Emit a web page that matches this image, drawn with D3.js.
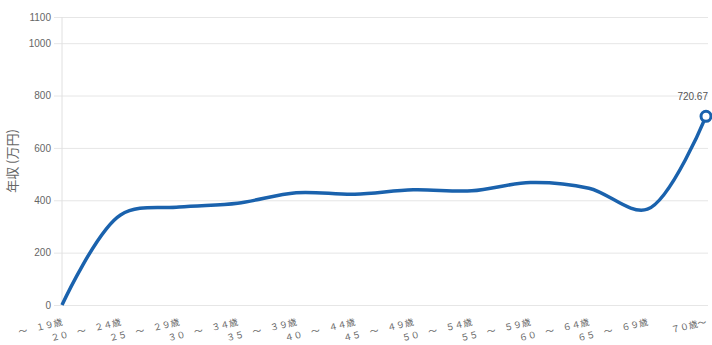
<!DOCTYPE html>
<html lang="ja">
<head>
<meta charset="UTF-8">
<title>年収</title>
<script src="https://d3js.org/d3.v7.min.js"></script>
<style>
  body { margin: 0; background: #fff; font-family: "Noto Sans CJK JP", "Noto Sans", sans-serif; }
  .grid line { stroke: #e6e6e6; }
  .tick text { fill: #666; }
</style>
</head>
<body>
<svg id="chart"></svg>
<script>
// data
var ageGroups = ["～　１９歳", "２０　～　２４歳", "２５　～　２９歳", "３０　～　３４歳", "３５　～　３９歳",
  "４０　～　４４歳", "４５　～　４９歳", "５０　～　５４歳", "５５　～　５９歳", "６０　～　６４歳",
  "６５　～　６９歳", "７０歳～"];
var income = [0, 344, 374, 389, 429, 423, 440, 436, 468, 446, 366, 720.67];
var yTicks = [0, 200, 400, 600, 800, 1000, 1100];

var W = 712, H = 345;
var margin = {top: 17, right: 6, bottom: 40, left: 62};
var w = W - margin.left - margin.right, h = H - margin.top - margin.bottom;

var svg = d3.select("#chart").attr("width", W).attr("height", H);
var g = svg.append("g").attr("transform", "translate(" + margin.left + "," + margin.top + ")");

var x = d3.scalePoint().domain(ageGroups).range([0, w]);
var y = d3.scaleLinear().domain([0, 1100]).range([h, 0]);

// horizontal grid + y ticks
var yAxis = g.append("g").attr("class", "grid")
  .call(d3.axisLeft(y).tickValues(yTicks).tickFormat(d3.format("d")).tickSize(-w - 10).tickPadding(3))
  .attr("transform", "translate(-8,0)");
yAxis.select(".domain").remove();
yAxis.selectAll(".tick text").attr("font-size", 10).attr("font-family", "Liberation Sans, Arial, sans-serif");
yAxis.selectAll(".tick line").attr("stroke", function(d) { return d === 0 ? "#cfcfcf" : "#e6e6e6"; });

// left axis line
g.append("line").attr("x1", 0).attr("x2", 0).attr("y1", 0).attr("y2", h).attr("stroke", "#e0e0e0");

// x labels
g.append("g").selectAll("text").data(ageGroups).enter().append("text")
  .attr("transform", function(d) { return "translate(" + (x(d) + 1) + "," + (h + 20) + ") rotate(-13)"; })
  .attr("text-anchor", "end")
  .attr("font-size", 9)
  .attr("fill", "#666")
  .text(function(d) { return d; });

// y title
svg.append("text")
  .attr("transform", "translate(17," + (margin.top + y(550)) + ") rotate(-90)")
  .attr("text-anchor", "middle")
  .attr("font-size", 13)
  .attr("fill", "#666")
  .text("年収 (万円)");

// line
var line = d3.line()
  .x(function(d, i) { return x(ageGroups[i]); })
  .y(function(d) { return y(d); })
  .curve(d3.curveCatmullRom.alpha(0.5));

g.append("path").datum(income)
  .attr("d", line)
  .attr("fill", "none")
  .attr("stroke", "#1a62ad")
  .attr("stroke-width", 3.5)
  .attr("stroke-linejoin", "round");

// last point marker + label
var last = ageGroups.length - 1;
g.append("circle")
  .attr("cx", x(ageGroups[last])).attr("cy", y(income[last]))
  .attr("r", 5).attr("fill", "#fff")
  .attr("stroke", "#1a62ad").attr("stroke-width", 3);

g.append("text")
  .attr("x", x(ageGroups[last]) + 2).attr("y", y(income[last]) - 16)
  .attr("text-anchor", "end")
  .attr("font-size", 10)
  .attr("font-family", "Liberation Sans, Arial, sans-serif")
  .attr("fill", "#555")
  .text(income[last]);
</script>
</body>
</html>
